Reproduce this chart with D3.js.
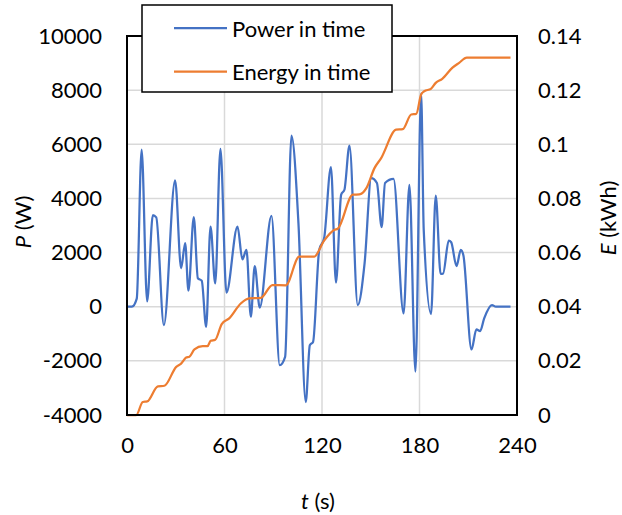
<!DOCTYPE html>
<html><head><meta charset="utf-8">
<script src="https://cdn.jsdelivr.net/npm/d3@7"></script>
<style>html,body{margin:0;padding:0;background:#fff;}svg{display:block;font-family:Lato,"Open Sans",sans-serif;}</style>
</head><body><svg id="chart" width="622" height="515"></svg>
<script>
// ---- data ----
const powerT = [0,3,6,9,12.4,15.9,18,22.7,29.6,33.3,35.8,37.8,41.1,43.6,46,48.7,51.4,54.3,57.5,61.2,68,71,73.5,76.2,78.6,81.7,88.9,94,97.3,101.2,105.5,110,112.5,114.5,118.3,121.3,125.5,128.6,131.8,133.8,136.9,142,146.2,150.3,153.8,156.7,158.8,164,170.2,173.8,177.5,181,182.6,187.1,190,193,194.5,198,199.5,202.8,205.4,207,212,215,217.3,219.8,224.6,227,236];
const powerW = [0,0,300,5800,200,3380,3300,-680,4670,1420,2350,590,3310,1050,960,-740,2960,860,5830,520,2960,1750,2100,-370,1500,-30,3360,-2160,-1850,6320,3090,-3520,-1420,-1300,2100,2530,5160,890,4140,4320,5950,60,1600,4750,4570,2940,4570,4720,-250,4500,-2400,7880,2840,-270,4100,1210,1220,2440,2380,1500,2100,1900,-1580,-840,-900,-430,60,0,0];
const energyT = [0,5.7,9.7,12.4,19,23,30.3,33.3,36.4,38.4,41.5,46.6,49.5,51.5,54.3,58.3,62.9,70,75.2,82.4,89.5,97.7,106,115.2,121.3,127.7,129.7,139,143,147.3,152.3,156.4,165.6,169.7,174.9,178,181,182.9,187,190,194,200.3,204.4,209.1,236];
const energyKWh = [0,0,0.0048,0.005,0.0106,0.0108,0.0178,0.019,0.0212,0.0215,0.0242,0.0254,0.0254,0.0274,0.0278,0.0336,0.0357,0.0412,0.0431,0.0433,0.048,0.0479,0.0585,0.0585,0.0644,0.0684,0.0688,0.0814,0.0815,0.0838,0.0912,0.0949,0.1054,0.1056,0.111,0.1112,0.1184,0.1196,0.1205,0.1227,0.1242,0.1283,0.1301,0.132,0.132];
const xTicks = [0,60,120,180,240];
const pTicks = [-4000,-2000,0,2000,4000,6000,8000,10000];
const eTicks = [0,0.02,0.04,0.06,0.08,0.1,0.12,0.14];
const seriesNames = ["Power in time","Energy in time"];
const colors = ["#4472C4","#ED7D31"];

// ---- chart ----
const svg = d3.select("#chart");
const L=127, R=517, T=36, B=415;
const x = d3.scaleLinear().domain([0,240]).range([L,R]);
const yP = d3.scaleLinear().domain([-4000,10000]).range([B,T]);
const yE = d3.scaleLinear().domain([0,0.14]).range([B,T]);

const grid = svg.append("g");
grid.selectAll("line.h").data(pTicks).join("line")
  .attr("x1",L).attr("x2",R).attr("y1",d=>yP(d)).attr("y2",d=>yP(d))
  .attr("stroke","#d9d9d9").attr("stroke-width",1.5);
grid.selectAll("line.v").data(xTicks).join("line")
  .attr("y1",T).attr("y2",B).attr("x1",d=>x(d)).attr("x2",d=>x(d))
  .attr("stroke","#d9d9d9").attr("stroke-width",1.5);

const powerData = powerT.map((t,i)=>[t,powerW[i]]);
const energyData = energyT.map((t,i)=>[t,energyKWh[i]]);
svg.append("path").datum(powerData)
  .attr("d", d3.line().x(d=>x(d[0])).y(d=>yP(d[1])).curve(d3.curveMonotoneX))
  .attr("fill","none").attr("stroke",colors[0]).attr("stroke-width",2.25);
svg.append("path").datum(energyData)
  .attr("d", d3.line().x(d=>x(d[0])).y(d=>yE(d[1])).curve(d3.curveMonotoneX))
  .attr("fill","none").attr("stroke",colors[1]).attr("stroke-width",2.25);

svg.append("rect").attr("x",L).attr("y",T).attr("width",R-L).attr("height",B-T)
  .attr("fill","none").attr("stroke","#000").attr("stroke-width",2);

// axes (labels only)
const fs = 22;
const axL = svg.append("g").attr("transform",`translate(${L},0)`)
  .call(d3.axisLeft(yP).tickValues(pTicks).tickSize(0).tickPadding(25).tickFormat(d=>String(d)));
const axR = svg.append("g").attr("transform",`translate(${R},0)`)
  .call(d3.axisRight(yE).tickValues(eTicks).tickSize(0).tickPadding(21).tickFormat(d=>String(d)));
const axB = svg.append("g").attr("transform",`translate(0,${B})`)
  .call(d3.axisBottom(x).tickValues(xTicks).tickSize(0).tickPadding(22).tickFormat(d=>String(d)));
[axL,axR,axB].forEach(a=>{
  a.select(".domain").remove();
  a.selectAll("text").attr("font-size",fs).attr("font-family","Lato,'Open Sans',sans-serif").attr("fill","#000");
});

// axis titles
const pt = svg.append("text").attr("transform","translate(22,222) rotate(-90)")
  .attr("text-anchor","middle").attr("dominant-baseline","central").attr("font-size",fs);
pt.append("tspan").attr("font-style","italic").text("P");
pt.append("tspan").text(" (W)");
const et = svg.append("text").attr("transform","translate(607,218) rotate(-90)")
  .attr("text-anchor","middle").attr("dominant-baseline","central").attr("font-size",fs);
et.append("tspan").attr("font-style","italic").text("E");
et.append("tspan").text(" (kWh)");
const tt = svg.append("text").attr("x",318).attr("y",500)
  .attr("text-anchor","middle").attr("dominant-baseline","central").attr("font-size",fs);
tt.append("tspan").attr("font-style","italic").text("t");
tt.append("tspan").text(" (s)");

// legend
const lg = svg.append("g");
lg.append("rect").attr("x",142).attr("y",5).attr("width",250).attr("height",87)
  .attr("fill","#fff").attr("stroke","#000").attr("stroke-width",1.5);
seriesNames.forEach((n,i)=>{
  const yy = 28 + i*43.5;
  lg.append("line").attr("x1",174).attr("x2",227).attr("y1",yy).attr("y2",yy)
    .attr("stroke",colors[i]).attr("stroke-width",2.25);
  lg.append("text").attr("x",232).attr("y",yy).attr("dominant-baseline","central")
    .attr("font-size",fs).attr("fill","#000").text(n);
});
</script></body></html>
